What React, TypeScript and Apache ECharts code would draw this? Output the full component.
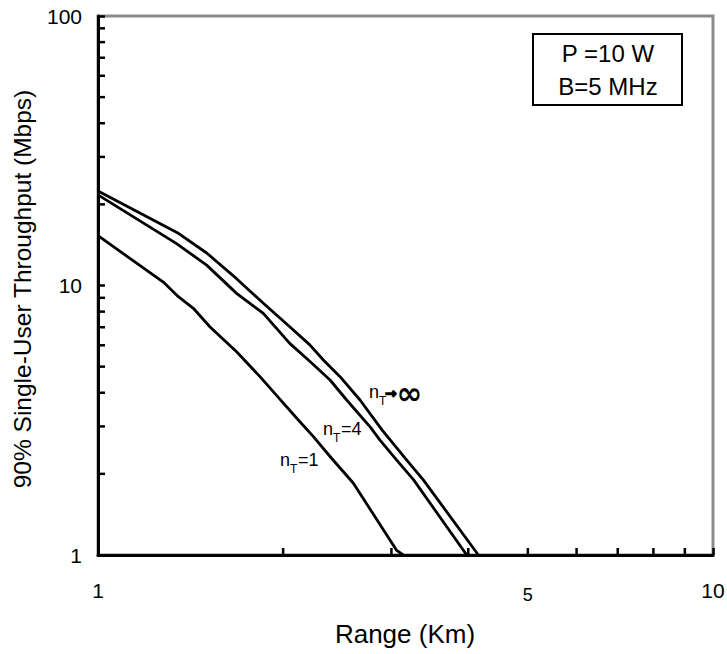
import React, { useEffect, useRef } from "react";
import * as echarts from "echarts";

// Range (km) and 90% single-user throughput (Mbps) for each number of transmit antennas
const rangeInf = [1, 1.346, 1.502, 1.68, 1.857, 2.05, 2.21, 2.325, 2.475, 2.667, 2.9, 3.177, 3.38, 4.154];
const thrInf = [22.4, 15.7, 13.2, 10.6, 8.59, 7.03, 6.02, 5.29, 4.59, 3.76, 2.9, 2.25, 1.9, 1.0];

const rangeN4 = [1, 1.342, 1.502, 1.68, 1.857, 2.05, 2.198, 2.384, 2.537, 2.77, 2.874, 3.06, 3.26, 3.977];
const thrN4 = [21.7, 14.3, 11.9, 9.35, 7.88, 6.1, 5.29, 4.46, 3.76, 2.99, 2.67, 2.25, 1.9, 1.0];

const rangeN1 = [1, 1.277, 1.351, 1.429, 1.52, 1.68, 1.834, 1.977, 2.117, 2.24, 2.384, 2.6, 3.06, 3.136];
const thrN1 = [15.3, 10.3, 9.09, 8.23, 7.03, 5.68, 4.59, 3.78, 3.17, 2.75, 2.32, 1.85, 1.04, 1.0];

// Axis ticks and labels
const xTickLabels = [1, 5, 10];
const xMinorTicks = [2, 3, 4, 5, 6, 7, 8, 9];
const yMinorTicks = [2, 3, 4, 5, 6, 7, 8, 9, 20, 30, 40, 50, 60, 70, 80, 90];

// Curve annotations: anchor (range, throughput) and the text after "n_T"
const labelRange = [2.759, 2.322, 1.977];
const labelThr = [3.99, 2.91, 2.23];
const labelTail = ["→∞", "=4", "=1"];

const boxLines = ["P =10 W", "B=5 MHz"];

const FONT = "'Liberation Sans', Arial, Helvetica, sans-serif";
const SYM_FONT = "'DejaVu Sans', sans-serif";

const zip = (xs: number[], ys: number[]) => xs.map((x, i) => [x, ys[i]]);

export default function App() {
  const ref = useRef<HTMLDivElement>(null);

  useEffect(() => {
    if (!ref.current) return;
    const chart = echarts.init(ref.current, undefined, { renderer: "svg" });

    const curve = (name: string, data: number[][]) => ({
      name,
      type: "line",
      data,
      showSymbol: false,
      symbol: "none",
      smooth: false,
      lineStyle: { color: "#000", width: 2.8, join: "round" },
      z: 3,
      silent: true,
    });

    const option: any = {
      animation: false,
      backgroundColor: "#fff",
      grid: {
        left: 98,
        right: 14,
        top: 16,
        bottom: 99,
        show: true,
        borderColor: "#8a8a8a",
        borderWidth: 3,
        backgroundColor: "transparent",
      },
      xAxis: {
        type: "log",
        logBase: 10,
        min: 1,
        max: 10,
        axisLine: { show: true, lineStyle: { color: "#000", width: 3 } },
        axisTick: { show: true, inside: true, length: 7, lineStyle: { color: "#000", width: 2.5 } },
        axisLabel: { show: false },
        splitLine: { show: false },
        minorTick: { show: false },
      },
      yAxis: {
        type: "log",
        logBase: 10,
        min: 1,
        max: 100,
        axisLine: { show: true, lineStyle: { color: "#000", width: 3 } },
        axisTick: { show: true, inside: true, length: 7, lineStyle: { color: "#000", width: 2.5 } },
        axisLabel: {
          show: true,
          margin: 16,
          fontSize: 21,
          color: "#000",
          fontFamily: FONT,
          formatter: (v: number) => String(Math.round(v)),
        },
        splitLine: { show: false },
      },
      series: [
        curve("nT→∞", zip(rangeInf, thrInf)),
        curve("nT=4", zip(rangeN4, thrN4)),
        curve("nT=1", zip(rangeN1, thrN1)),
        {
          // minor ticks on the range axis
          type: "custom",
          silent: true,
          z: 4,
          data: xMinorTicks.map((v) => [v, 1]),
          renderItem: (_p: any, api: any) => {
            const [px, py] = api.coord([api.value(0), api.value(1)]);
            return {
              type: "line",
              shape: { x1: px, y1: py, x2: px, y2: py - 7 },
              style: { stroke: "#000", lineWidth: 2.5 },
            };
          },
        },
        {
          // minor ticks on the throughput axis
          type: "custom",
          silent: true,
          z: 4,
          data: yMinorTicks.map((v) => [1, v]),
          renderItem: (_p: any, api: any) => {
            const [px, py] = api.coord([api.value(0), api.value(1)]);
            return {
              type: "line",
              shape: { x1: px, y1: py, x2: px + 7, y2: py },
              style: { stroke: "#000", lineWidth: 2.5 },
            };
          },
        },
        {
          // range axis labels
          type: "custom",
          silent: true,
          clip: false,
          data: xTickLabels.map((v) => [v, 1]),
          renderItem: (_p: any, api: any) => {
            const v = api.value(0);
            const [px, py] = api.coord([v, api.value(1)]);
            const small = v !== 1 && v !== 10;
            return {
              type: "text",
              x: px,
              y: py + (small ? 40 : 35),
              style: {
                text: String(v),
                fontSize: small ? 18 : 21,
                fontFamily: FONT,
                fill: "#000",
                align: "center",
                verticalAlign: "middle",
              },
            };
          },
        },
        {
          // curve annotations n_T...
          type: "custom",
          silent: true,
          clip: false,
          z: 5,
          data: zip(labelRange, labelThr),
          renderItem: (p: any, api: any) => {
            const [px, py] = api.coord([api.value(0), api.value(1)]);
            const tail = labelTail[p.dataIndex];
            const base = { fontFamily: FONT, fill: "#000", align: "left", verticalAlign: "middle" };
            const children: any[] = [
              { type: "text", x: px, y: py - 1, style: { ...base, text: "n", fontSize: 18 } },
              { type: "text", x: px + 10, y: py + 8, style: { ...base, text: "T", fontSize: 12 } },
            ];
            if (tail.startsWith("→")) {
              children.push({
                type: "text",
                x: px + 16,
                y: py,
                style: {
                  ...base,
                  text: "→",
                  fontSize: 14,
                  fontWeight: "bold",
                  fontFamily: SYM_FONT,
                  stroke: "#000",
                  lineWidth: 1.2,
                },
              });
              children.push({
                type: "text",
                x: px + 27.5,
                y: py,
                style: { ...base, text: "∞", fontSize: 31, fontWeight: "bold", fontFamily: SYM_FONT },
              });
            } else {
              children.push({ type: "text", x: px + 18, y: py - 1, style: { ...base, text: tail, fontSize: 18 } });
            }
            return { type: "group", children };
          },
        },
      ],
      graphic: [
        {
          type: "rect",
          shape: { x: 533, y: 34, width: 149, height: 71 },
          style: { fill: "#fff", stroke: "#000", lineWidth: 2 },
          z: 10,
        },
        {
          type: "text",
          x: 608,
          y: 53,
          style: { text: boxLines[0], fontSize: 24, fontFamily: FONT, fill: "#000", align: "center", verticalAlign: "middle" },
          z: 11,
        },
        {
          type: "text",
          x: 608,
          y: 86,
          style: { text: boxLines[1], fontSize: 24, fontFamily: FONT, fill: "#000", align: "center", verticalAlign: "middle" },
          z: 11,
        },
        {
          type: "text",
          x: 405,
          y: 634,
          style: { text: "Range (Km)", fontSize: 26, fontFamily: FONT, fill: "#000", align: "center", verticalAlign: "middle" },
        },
        {
          type: "text",
          x: 22,
          y: 289,
          rotation: Math.PI / 2,
          style: {
            text: "90% Single-User Throughput (Mbps)",
            fontSize: 24.5,
            fontFamily: FONT,
            fill: "#000",
            align: "center",
            verticalAlign: "middle",
          },
        },
      ],
    };

    chart.setOption(option);
    return () => chart.dispose();
  }, []);

  return <div ref={ref} style={{ width: 727, height: 654, position: "absolute", left: 0, top: 0 }} />;
}
